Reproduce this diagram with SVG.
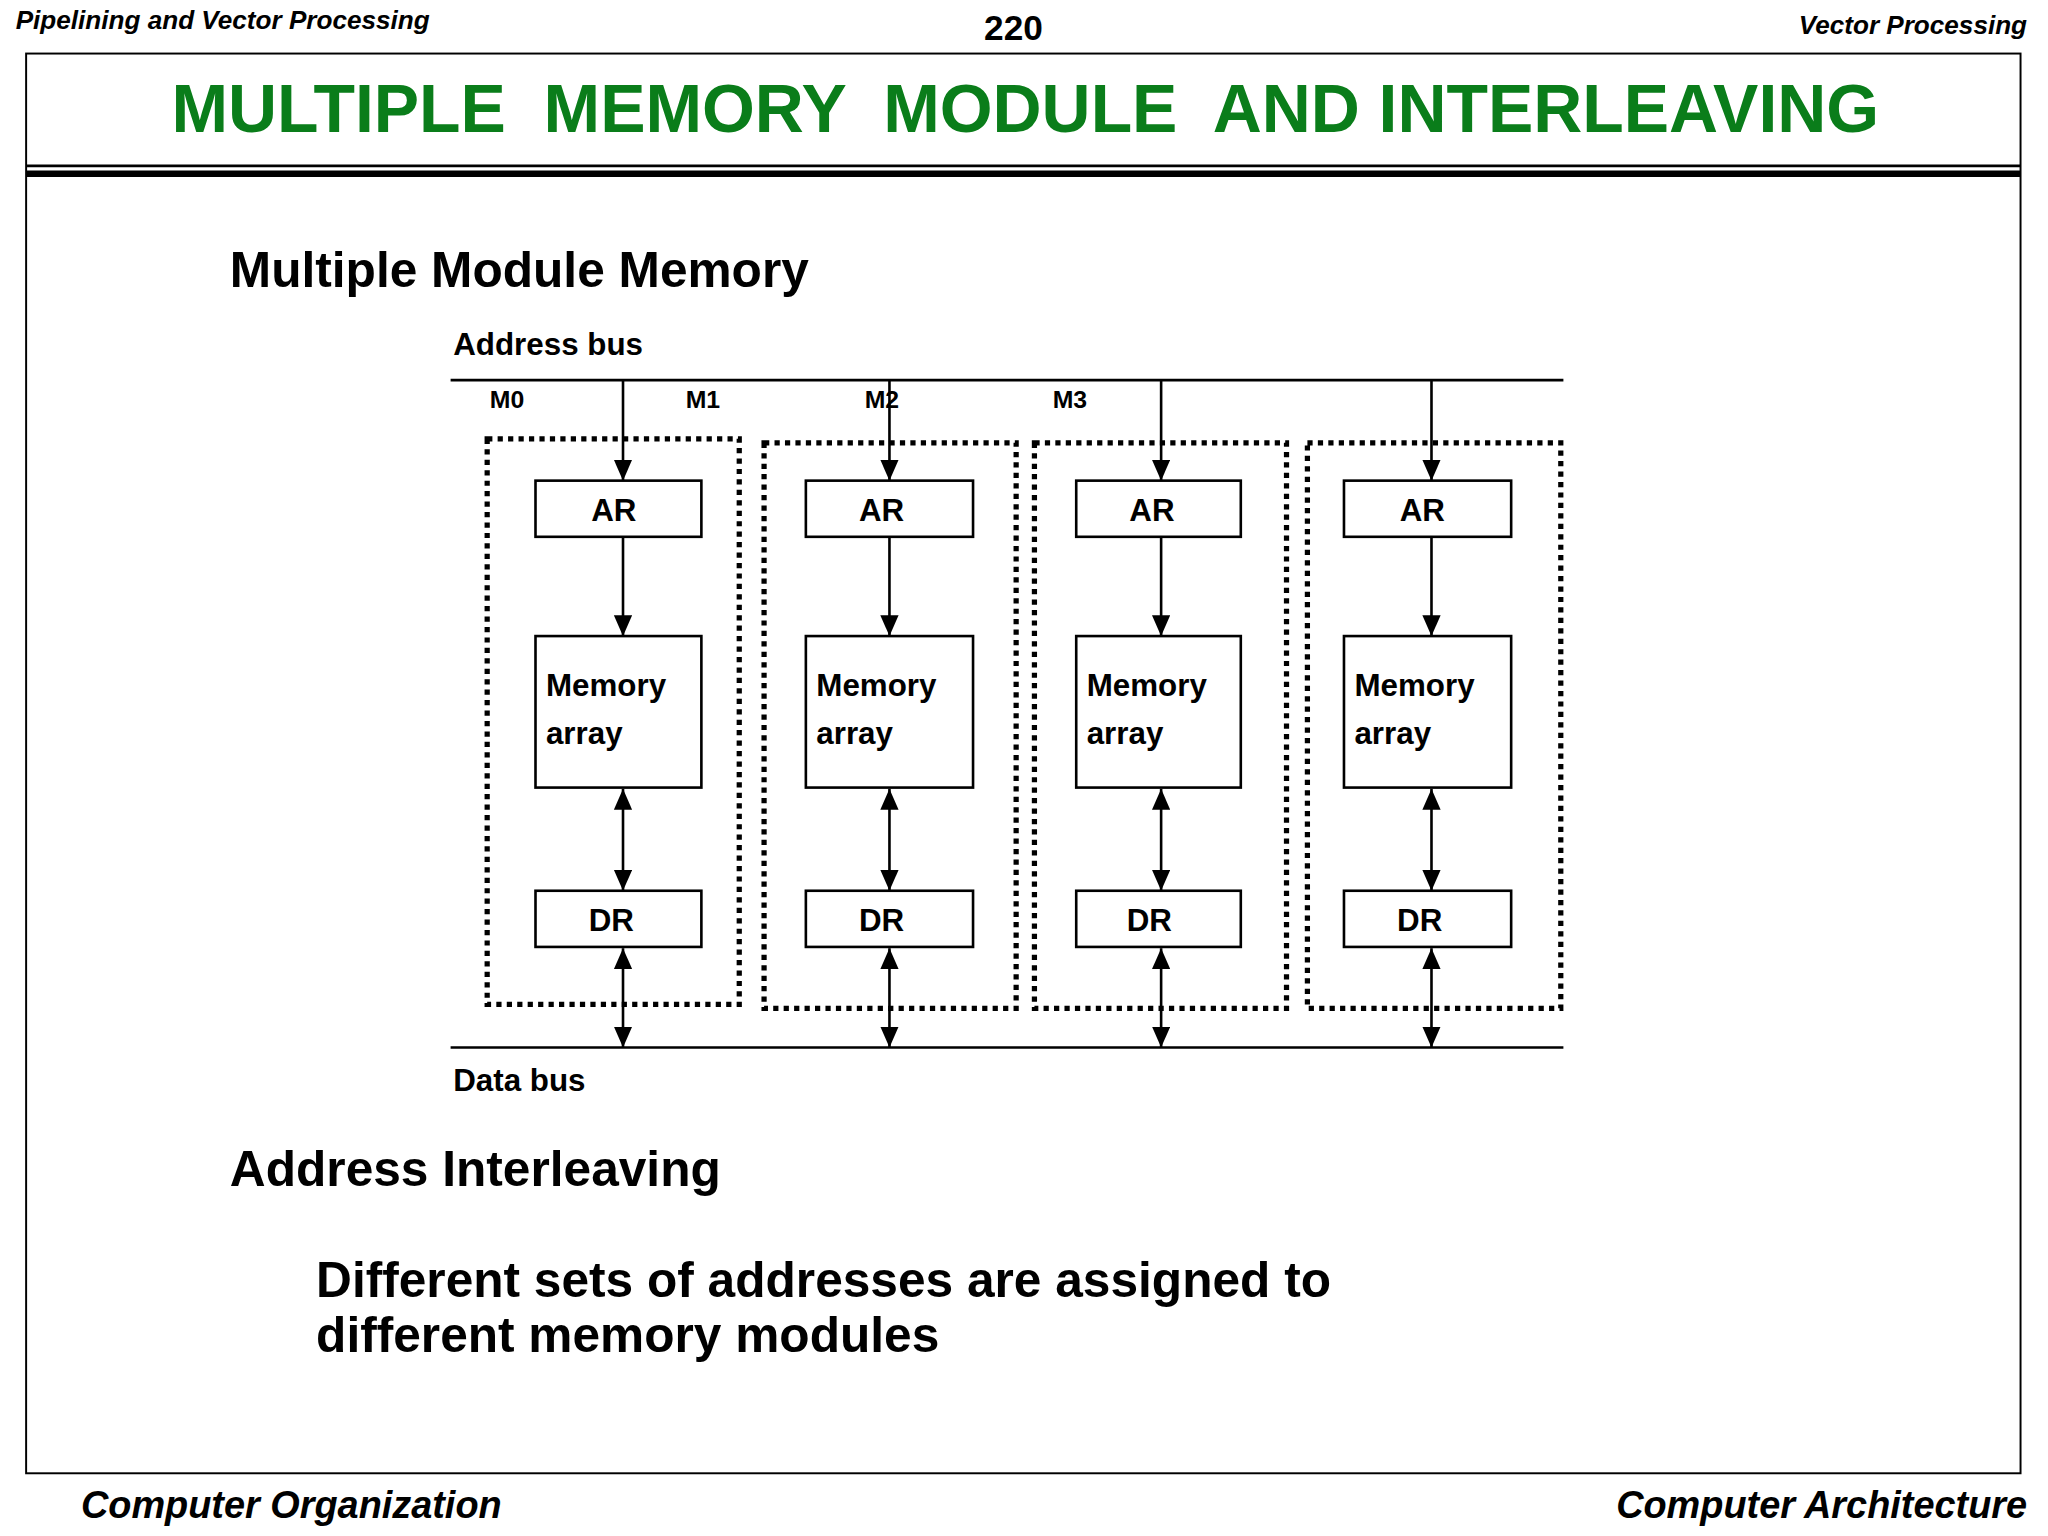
<svg xmlns="http://www.w3.org/2000/svg" width="2048" height="1536" viewBox="0 0 2048 1536">
<style>
text{font-family:"Liberation Sans",Arial,sans-serif;font-weight:bold;fill:#000}
.box{fill:#fff;stroke:#000;stroke-width:2}
.dot{fill:none;stroke:#000;stroke-width:4;stroke-dasharray:4 4}
.ln{stroke:#000;stroke-width:2;fill:none}
.ar{stroke:#000;stroke-width:2;fill:none;marker-end:url(#ah)}
.dar{stroke:#000;stroke-width:2;fill:none;marker-end:url(#ah);marker-start:url(#ahs)}
.lbl{font-size:24px;text-anchor:middle}
.mem{font-size:24px}
</style>
<defs>
<marker id="ah" markerUnits="userSpaceOnUse" markerWidth="16" markerHeight="24" refX="16" refY="7" orient="auto"><path d="M0,0L16,7L0,14z" fill="#000"/></marker>
<marker id="ahs" markerUnits="userSpaceOnUse" markerWidth="16" markerHeight="24" refX="0" refY="7" orient="auto"><path d="M16,0L0,7L16,14z" fill="#000"/></marker>
</defs>
<rect width="2048" height="1536" fill="#fff"/>
<g transform="scale(1.3061)">
<text x="12" y="22" font-size="20" font-style="italic">Pipelining and Vector Processing</text>
<text x="776" y="31" font-size="27" text-anchor="middle">220</text>
<text x="1552" y="26" font-size="20" font-style="italic" text-anchor="end">Vector Processing</text>
<rect x="20" y="41" width="1527" height="1087" fill="none" stroke="#000" stroke-width="1.5"/>
<line x1="20" y1="127" x2="1547" y2="127" stroke="#000" stroke-width="2"/>
<line x1="20" y1="133" x2="1547" y2="133" stroke="#000" stroke-width="5"/>
<text x="785" y="101" font-size="52" fill="#0a7d1a" style="fill:#0a7d1a" text-anchor="middle" xml:space="preserve">MULTIPLE  MEMORY  MODULE  AND INTERLEAVING</text>
<text x="62" y="1162" font-size="29" font-style="italic">Computer Organization</text>
<text x="1552" y="1162" font-size="29" font-style="italic" text-anchor="end">Computer Architecture</text>
<text x="176" y="220" font-size="38">Multiple Module Memory</text>
<text x="347" y="272" font-size="24">Address bus</text>
<text x="347" y="835" font-size="24">Data bus</text>
<g id="labels" font-size="19">
<text x="375" y="312" font-size="19">M0</text>
<text x="525" y="312" font-size="19">M1</text>
<text x="662" y="312" font-size="19">M2</text>
<text x="806" y="312" font-size="19">M3</text>
</g>
<g id="buses">
<line class="ln" x1="345" y1="291" x2="1197" y2="291"/>
<line class="ln" x1="345" y1="802" x2="1197" y2="802"/>
</g>
<g id="module0"><rect class="dot" x="373" y="336" width="193" height="433"/>
<rect class="box" x="410" y="368" width="127" height="43"/><text class="lbl" x="470" y="399">AR</text>
<rect class="box" x="410" y="487" width="127" height="116"/><text class="mem" x="418" y="533">Memory</text><text class="mem" x="418" y="570">array</text>
<rect class="box" x="410" y="682" width="127" height="43"/><text class="lbl" x="468" y="713">DR</text></g>
<g id="module1"><rect class="dot" x="585" y="339" width="193" height="433"/>
<rect class="box" x="617" y="368" width="128" height="43"/><text class="lbl" x="675" y="399">AR</text>
<rect class="box" x="617" y="487" width="128" height="116"/><text class="mem" x="625" y="533">Memory</text><text class="mem" x="625" y="570">array</text>
<rect class="box" x="617" y="682" width="128" height="43"/><text class="lbl" x="675" y="713">DR</text></g>
<g id="module2"><rect class="dot" x="792" y="339" width="193" height="433"/>
<rect class="box" x="824" y="368" width="126" height="43"/><text class="lbl" x="882" y="399">AR</text>
<rect class="box" x="824" y="487" width="126" height="116"/><text class="mem" x="832" y="533">Memory</text><text class="mem" x="832" y="570">array</text>
<rect class="box" x="824" y="682" width="126" height="43"/><text class="lbl" x="880" y="713">DR</text></g>
<g id="module3"><rect class="dot" x="1001" y="339" width="194" height="433"/>
<rect class="box" x="1029" y="368" width="128" height="43"/><text class="lbl" x="1089" y="399">AR</text>
<rect class="box" x="1029" y="487" width="128" height="116"/><text class="mem" x="1037" y="533">Memory</text><text class="mem" x="1037" y="570">array</text>
<rect class="box" x="1029" y="682" width="128" height="43"/><text class="lbl" x="1087" y="713">DR</text></g>
<g id="connectors">
<line class="ar" x1="477" y1="291" x2="477" y2="368"/><line class="ar" x1="477" y1="411" x2="477" y2="487"/><line class="dar" x1="477" y1="604" x2="477" y2="682"/><line class="dar" x1="477" y1="726" x2="477" y2="802"/>
<line class="ar" x1="681" y1="291" x2="681" y2="368"/><line class="ar" x1="681" y1="411" x2="681" y2="487"/><line class="dar" x1="681" y1="604" x2="681" y2="682"/><line class="dar" x1="681" y1="726" x2="681" y2="802"/>
<line class="ar" x1="889" y1="291" x2="889" y2="368"/><line class="ar" x1="889" y1="411" x2="889" y2="487"/><line class="dar" x1="889" y1="604" x2="889" y2="682"/><line class="dar" x1="889" y1="726" x2="889" y2="802"/>
<line class="ar" x1="1096" y1="291" x2="1096" y2="368"/><line class="ar" x1="1096" y1="411" x2="1096" y2="487"/><line class="dar" x1="1096" y1="604" x2="1096" y2="682"/><line class="dar" x1="1096" y1="726" x2="1096" y2="802"/>
</g>
<text x="176" y="908" font-size="38">Address Interleaving</text>
<text x="242" y="993" font-size="38">Different sets of addresses are assigned to</text>
<text x="242" y="1035" font-size="38">different memory modules</text>
</g>
</svg>
